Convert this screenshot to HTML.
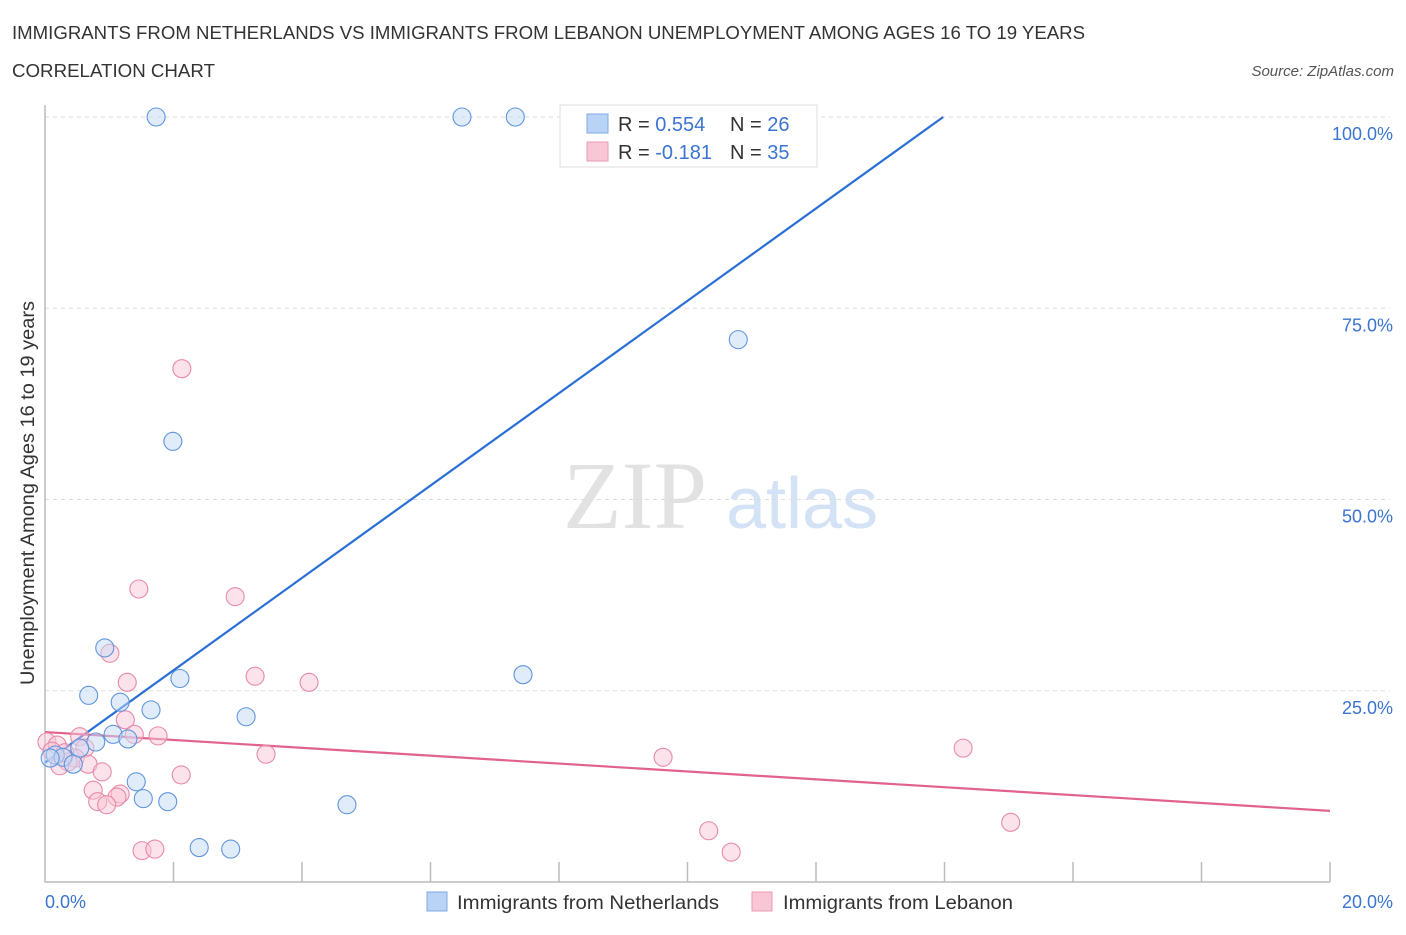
<!DOCTYPE html>
<html><head><meta charset="utf-8"><style>
body{margin:0;background:#fff;font-family:"Liberation Sans",sans-serif}
</style></head><body>
<svg id="c" width="1406" height="930" xmlns="http://www.w3.org/2000/svg">
<text x="12" y="39" font-size="18" fill="#333" textLength="1073" lengthAdjust="spacingAndGlyphs">IMMIGRANTS FROM NETHERLANDS VS IMMIGRANTS FROM LEBANON UNEMPLOYMENT AMONG AGES 16 TO 19 YEARS</text>
<text x="12" y="77" font-size="18" fill="#333" textLength="203" lengthAdjust="spacingAndGlyphs">CORRELATION CHART</text>
<text x="1394" y="76" font-size="15" fill="#555" font-style="italic" text-anchor="end">Source: ZipAtlas.com</text>
<text x="0" y="0" transform="translate(34,493) rotate(-90)" font-size="19" fill="#333" text-anchor="middle" textLength="384" lengthAdjust="spacingAndGlyphs">Unemployment Among Ages 16 to 19 years</text>
<text x="635" y="528" font-size="96" fill="#e2e2e2" font-family="Liberation Serif,serif" text-anchor="middle">ZIP</text>
<text x="802" y="528" font-size="72" fill="#d3e2f5" text-anchor="middle">atlas</text>
<g id="grid"></g><g id="axes"></g><g id="lines"></g><g id="pts"></g>
<g>
<rect x="560" y="105" width="257" height="62" fill="#fff" stroke="#ddd"/>
<rect x="587" y="114" width="21" height="19" fill="#b8d3f5" stroke="#7fa9e3"/>
<rect x="587" y="142" width="21" height="19" fill="#f9c6d5" stroke="#eb9ab2"/>
<text x="618" y="131" font-size="20" fill="#333">R = <tspan fill="#3b74d1">0.554</tspan></text>
<text x="730" y="131" font-size="20" fill="#333">N = <tspan fill="#3b74d1">26</tspan></text>
<text x="618" y="159" font-size="20" fill="#333">R = <tspan fill="#3b74d1">-0.181</tspan></text>
<text x="730" y="159" font-size="20" fill="#333">N = <tspan fill="#3b74d1">35</tspan></text>
</g>
<g>
<rect x="427" y="892" width="20" height="19" fill="#b8d3f5" stroke="#7fa9e3"/>
<text x="457" y="909" font-size="19.5" fill="#333" textLength="262" lengthAdjust="spacingAndGlyphs">Immigrants from Netherlands</text>
<rect x="752" y="892" width="20" height="19" fill="#f9c6d5" stroke="#eb9ab2"/>
<text x="783" y="909" font-size="19.5" fill="#333" textLength="230" lengthAdjust="spacingAndGlyphs">Immigrants from Lebanon</text>
</g>
</svg>
<script>
const blueX=[1.73,6.49,7.32,10.79,1.99,0.93,0.68,2.10,7.44,1.17,1.65,3.13,1.06,1.29,0.79,0.54,0.16,0.28,0.44,1.42,1.53,1.91,4.70,2.40,2.89,0.08];
const blueY=[100,100,100,70.9,57.6,30.6,24.4,26.6,27.1,23.5,22.5,21.6,19.3,18.7,18.3,17.5,16.6,16.3,15.4,13.1,10.9,10.5,10.1,4.5,4.3,16.2];
const pinkX=[2.13,1.46,2.96,1.01,1.28,3.27,4.11,1.25,1.39,1.76,0.54,14.29,0.03,0.19,0.62,3.44,9.62,0.47,0.36,0.67,0.23,0.89,2.12,0.75,1.17,1.12,0.82,0.96,15.03,10.33,1.51,1.71,10.68,0.11,0.31];
const pinkY=[67.1,38.3,37.3,29.9,26.1,26.9,26.1,21.2,19.3,19.1,19.0,17.5,18.3,17.9,17.5,16.7,16.3,16.2,15.7,15.4,15.2,14.4,14.0,12.0,11.5,11.1,10.5,10.1,7.8,6.7,4.1,4.3,3.9,17.1,16.9];
const blueLine=[[0,15.6],[13.98,100]];
const pinkLine=[[0,19.6],[20,9.3]];
const yTicks=[25,50,75,100];
const yTickLabels=["25.0%","50.0%","75.0%","100.0%"];
const xTicks=[0,2,4,6,8,10,12,14,16,18,20];
const NS="http://www.w3.org/2000/svg";
const X=v=>45+v*64.25, Y=v=>882-v*7.65;
function mk(p,t,a){const e=document.createElementNS(NS,t);for(const k in a)e.setAttribute(k,a[k]);document.getElementById(p).appendChild(e);return e;}
yTicks.forEach((t,i)=>{
 const g=mk('grid','line',{x1:45,x2:1390,y1:Y(t),y2:Y(t),stroke:'#ddd','stroke-dasharray':'4,4'});
 
 
 const l=mk('grid','text',{x:1393,y:Y(t)+23,'font-size':18,fill:'#3b74d1','text-anchor':'end'});l.textContent=yTickLabels[i];
 
 
});
const ax=mk('axes','path',{d:'M45,105V882H1330',fill:'none',stroke:'#bbb','stroke-width':1.5});


xTicks.slice(1).forEach(t=>{const e=mk('axes','line',{x1:X(t),x2:X(t),y1:882,y2:862,stroke:'#bbb','stroke-width':1.5});
 
 });
const x0=mk('axes','text',{x:45,y:908,'font-size':18,fill:'#3b74d1'});x0.textContent='0.0%';


const x1=mk('axes','text',{x:1393,y:908,'font-size':18,fill:'#3b74d1','text-anchor':'end'});x1.textContent='20.0%';


function pts(xs,ys,f,s,n){xs.forEach((x,i)=>{const c=mk('pts','circle',{cx:X(x),cy:Y(ys[i]),r:9,fill:f,'fill-opacity':0.5,stroke:s,'stroke-width':1.1});
 
 });}
pts(pinkX,pinkY,'#f9c6d5','#e98aa8','lebanon-point');
pts(blueX,blueY,'#c3d9f6','#5f95de','netherlands-point');
const bl=mk('lines','line',{x1:X(blueLine[0][0]),y1:Y(blueLine[0][1]),x2:X(blueLine[1][0]),y2:Y(blueLine[1][1]),stroke:'#2a6fd6','stroke-width':2.2});


const pl=mk('lines','line',{x1:X(pinkLine[0][0]),y1:Y(pinkLine[0][1]),x2:X(pinkLine[1][0]),y2:Y(pinkLine[1][1]),stroke:'#e0628d','stroke-width':2.2});


</script>
</body></html>
